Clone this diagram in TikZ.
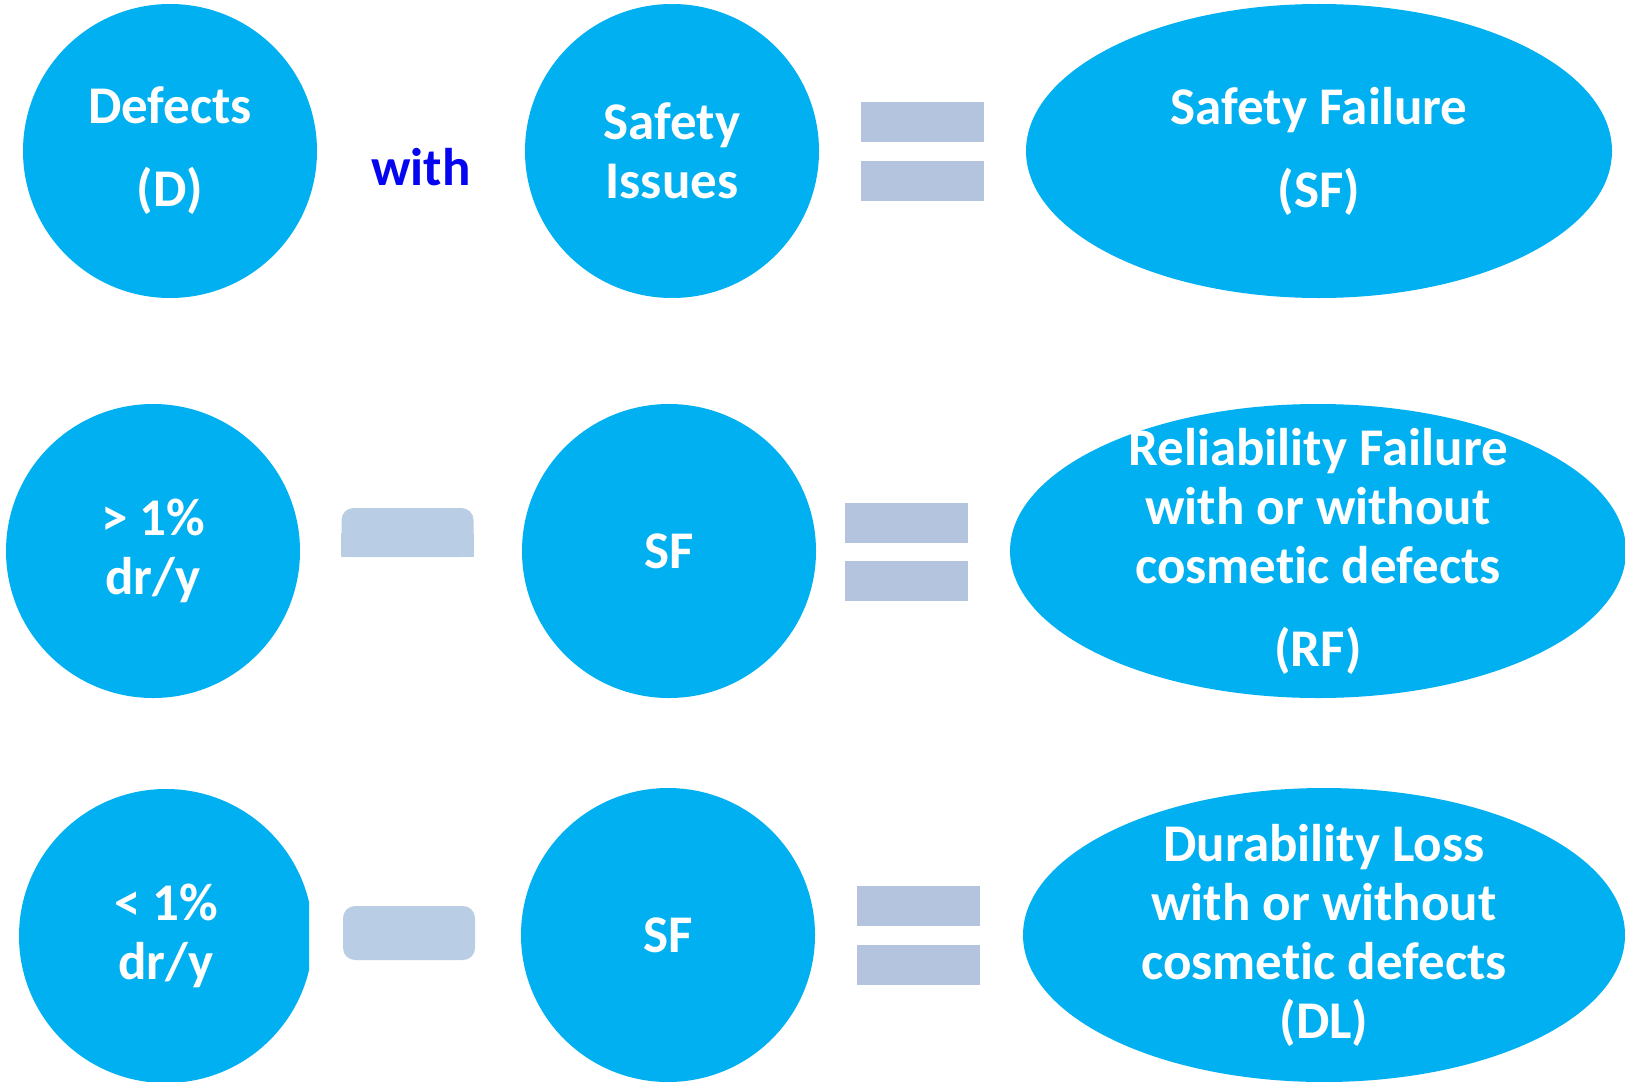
\documentclass[tikz,border=0pt]{standalone}
\usepackage{fontspec}
\setmainfont{Carlito}[Ligatures=NoCommon]
\usetikzlibrary{shapes.geometric}
\definecolor{blobcyan}{HTML}{00B0F0}
\definecolor{barblue}{HTML}{B4C4DF}
\definecolor{minusblue}{HTML}{B9CDE5}
\definecolor{withblue}{HTML}{0505F0}
\tikzset{
  blob/.style={shape=circle, fill=blobcyan, minimum size=147pt, inner sep=0pt, align=center, text=white, font=\fontsize{26.5}{29.5}\selectfont\bfseries},
  oval/.style={shape=ellipse, fill=blobcyan, minimum height=147pt, inner sep=0pt},
  ovaltext/.style={align=center, text=white, inner sep=0pt, font=\fontsize{26.5}{29.5}\selectfont\bfseries},
  eqbar/.style={shape=rectangle, fill=barblue, minimum width=61.5pt, minimum height=20pt, inner sep=0pt},
  minusbar/.style={shape=rectangle, rounded corners=6pt, fill=minusblue, minimum width=66pt, inner sep=0pt},
}

\begin{document}
\begin{tikzpicture}[x=0.5pt, y=-0.5pt]
\useasboundingbox (0,0) rectangle (1625,1081);
\clip (0,0) rectangle (1625,1081);

% first row
\node[blob] (defects) at (170, 151) {Defects\\[12pt](D)};
\node[text=withblue, font=\fontsize{26.5}{29.5}\selectfont\bfseries, anchor=base] (with) at (421, 185) {with};
\node[blob] (issues) at (672, 151) {Safety\\Issues};
\node[eqbar] (eqAtop) at (922.5, 122) {};
\node[eqbar] (eqAbot) at (922.5, 181) {};
\node[oval, minimum width=293pt] (safety) at (1319, 151) {};
\node[ovaltext] (safetytext) at (safety.center) {Safety Failure\\[12pt](SF)};

% second row
\node[blob] (above) at (153, 551) {> 1\%\\dr/y};
\node[minusbar, minimum height=24.5pt] (minusB) at (407.5, 532.5) {};
\fill[minusblue] (minusB.west) rectangle (minusB.south east);
\node[blob] (sfB) at (669, 551) {SF};
\node[eqbar] (eqBtop) at (906.5, 522.5) {};
\node[eqbar] (eqBbot) at (906.5, 580.5) {};
\node[oval, minimum width=308pt] (reliab) at (1318, 551) {};
\node[ovaltext] (reliabtext) at (reliab.center) {Reliability Failure\\with or without\\cosmetic defects\\[12pt](RF)};

% third row
\begin{scope}
\clip (0, 780) rectangle (309, 1081);
\node[blob] (below) at (166, 936) {< 1\%\\dr/y};
\end{scope}
\node[minusbar, minimum height=27pt] (minusC) at (409, 933) {};
\node[blob] (sfC) at (668, 935) {SF};
\node[eqbar] (eqCtop) at (918, 905.5) {};
\node[eqbar] (eqCbot) at (918, 965) {};
\node[oval, minimum width=301pt] (durab) at (1324, 935) {};
\node[ovaltext] (durabtext) at (durab.center) {Durability Loss\\with or without\\cosmetic defects\\(DL)};

\end{tikzpicture}
\end{document}
